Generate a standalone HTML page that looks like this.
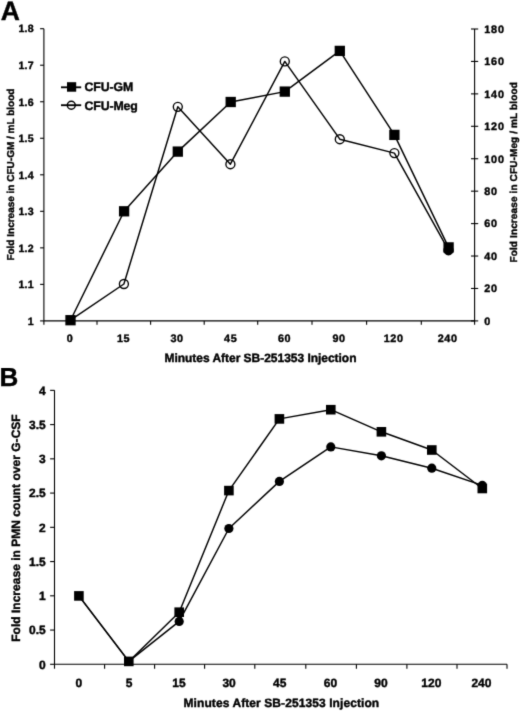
<!DOCTYPE html>
<html lang="en"><head><meta charset="utf-8"><title>Figure</title>
<style>
html,body{margin:0;padding:0;background:#fff;}
body{width:520px;height:711px;overflow:hidden;font-family:"Liberation Sans",Arial,Helvetica,sans-serif;}
svg{display:block;}
</style></head><body>
<svg width="520" height="711" viewBox="0 0 520 711" text-rendering="geometricPrecision">
<defs><filter id="soft" x="0" y="0" width="520" height="711" filterUnits="userSpaceOnUse"><feConvolveMatrix order="3" kernelMatrix="0.0144 0.0912 0.0144 0.0912 0.5776 0.0912 0.0144 0.0912 0.0144" divisor="1" edgeMode="none" preserveAlpha="false"/></filter></defs>
<rect width="520" height="711" fill="#fff"/>
<g filter="url(#soft)">
<g stroke="#000" stroke-width="1.1" fill="none">
<path d="M43.9 28.7V320.9L474.6 320.9V29.0"/>
<path d="M40.10 28.70H43.9"/>
<path d="M40.10 65.22H43.9"/>
<path d="M40.10 101.75H43.9"/>
<path d="M40.10 138.27H43.9"/>
<path d="M40.10 174.80H43.9"/>
<path d="M40.10 211.32H43.9"/>
<path d="M40.10 247.85H43.9"/>
<path d="M40.10 284.38H43.9"/>
<path d="M40.10 320.90H43.9"/>
<path d="M471.00 29.00H478.20"/>
<path d="M471.00 61.43H478.20"/>
<path d="M471.00 93.87H478.20"/>
<path d="M471.00 126.30H478.20"/>
<path d="M471.00 158.73H478.20"/>
<path d="M471.00 191.17H478.20"/>
<path d="M471.00 223.60H478.20"/>
<path d="M471.00 256.03H478.20"/>
<path d="M471.00 288.47H478.20"/>
<path d="M471.00 320.90H478.20"/>
<path d="M43.90 320.90V324.80"/>
<path d="M97.00 320.90V324.80"/>
<path d="M150.60 320.90V324.80"/>
<path d="M204.20 320.90V324.80"/>
<path d="M257.70 320.90V324.80"/>
<path d="M312.00 320.90V324.80"/>
<path d="M366.60 320.90V324.80"/>
<path d="M421.30 320.90V324.80"/>
<path d="M474.60 320.90V324.80"/>
</g>
<g font-family="Liberation Sans, Arial, Helvetica, sans-serif" font-weight="bold" stroke="#000" stroke-width="0.4" font-size="10.6" letter-spacing="0.25" text-anchor="end" fill="#000">
<text x="33.9" y="32.45">1.8</text>
<text x="33.9" y="68.97">1.7</text>
<text x="33.9" y="105.50">1.6</text>
<text x="33.9" y="142.02">1.5</text>
<text x="33.9" y="178.55">1.4</text>
<text x="33.9" y="215.07">1.3</text>
<text x="33.9" y="251.60">1.2</text>
<text x="33.9" y="288.12">1.1</text>
<text x="33.9" y="324.65">1</text>
</g>
<g font-family="Liberation Sans, Arial, Helvetica, sans-serif" font-weight="bold" stroke="#000" stroke-width="0.4" font-size="10.8" letter-spacing="0.8" text-anchor="start" fill="#000">
<text x="484.3" y="32.85">180</text>
<text x="484.3" y="65.28">160</text>
<text x="484.3" y="97.72">140</text>
<text x="484.3" y="130.15">120</text>
<text x="484.3" y="162.58">100</text>
<text x="484.3" y="195.02">80</text>
<text x="484.3" y="227.45">60</text>
<text x="484.3" y="259.88">40</text>
<text x="484.3" y="292.32">20</text>
<text x="484.3" y="324.75">0</text>
</g>
<g font-family="Liberation Sans, Arial, Helvetica, sans-serif" font-weight="bold" stroke="#000" stroke-width="0.4" font-size="10.8" letter-spacing="0.6" text-anchor="middle" fill="#000">
<text x="70.15" y="342.4">0</text>
<text x="123.50" y="342.4">15</text>
<text x="177.10" y="342.4">30</text>
<text x="230.65" y="342.4">45</text>
<text x="284.55" y="342.4">60</text>
<text x="339.00" y="342.4">90</text>
<text x="393.65" y="342.4">120</text>
<text x="447.65" y="342.4">240</text>
</g>
<text font-family="Liberation Sans, Arial, Helvetica, sans-serif" font-weight="bold" stroke="#000" stroke-width="0.4" font-size="12" x="164.5" y="361.8" textLength="192" lengthAdjust="spacing">Minutes After SB-251353 Injection</text>
<text font-family="Liberation Sans, Arial, Helvetica, sans-serif" font-weight="bold" stroke="#000" stroke-width="0.4" font-size="10" transform="translate(13.9 260.6) rotate(-90)" textLength="172" lengthAdjust="spacing">Fold Increase in CFU-GM / mL blood</text>
<text font-family="Liberation Sans, Arial, Helvetica, sans-serif" font-weight="bold" stroke="#000" stroke-width="0.4" font-size="10" transform="translate(516.6 262.5) rotate(-90)" textLength="180.3" lengthAdjust="spacing">Fold Increase in CFU-Meg / mL blood</text>
<text font-family="Liberation Sans, Arial, Helvetica, sans-serif" font-weight="bold" font-size="26.5" x="0.8" y="19.7" stroke="#000" stroke-width="0.4">A</text>
<text font-family="Liberation Sans, Arial, Helvetica, sans-serif" font-weight="bold" font-size="26" x="-0.4" y="385.8" stroke="#000" stroke-width="0.4">B</text>
<g stroke="#000" stroke-width="1.45" fill="none">
<path d="M61 87.3H81.2" stroke-width="1.85"/><path d="M61 105.2H81.2" stroke-width="1.85"/>
<circle cx="71.3" cy="105.2" r="3.95" stroke-width="1.5"/>
</g>
<rect x="67" y="82.2" width="9.2" height="9.5" fill="#000"/>
<text font-family="Liberation Sans, Arial, Helvetica, sans-serif" font-weight="bold" stroke="#000" stroke-width="0.4" font-size="12.3" x="84.5" y="91.3" textLength="48.8" lengthAdjust="spacing">CFU-GM</text>
<text font-family="Liberation Sans, Arial, Helvetica, sans-serif" font-weight="bold" stroke="#000" stroke-width="0.4" font-size="12.3" x="84.5" y="109.7" textLength="53.3" lengthAdjust="spacing">CFU-Meg</text>
<g stroke="#000" stroke-width="1.45" fill="none" stroke-linejoin="round">
<path d="M70.5 320.2 L124.1 211.3 L177.8 151.6 L230.7 102.0 L284.8 91.6 L339.8 50.9 L394.4 134.9 L448.6 247.4"/>
<path d="M70.5 320.2 L123.9 284.0 L177.8 106.8 L230.4 164.2 L284.8 61.4 L339.8 139.2 L394.4 153.1 L448.5 250.2"/>
</g>
<rect x="65.35" y="315.05" width="10.3" height="10.3" fill="#000"/>
<rect x="118.95" y="206.15" width="10.3" height="10.3" fill="#000"/>
<rect x="172.65" y="146.45" width="10.3" height="10.3" fill="#000"/>
<rect x="225.55" y="96.85" width="10.3" height="10.3" fill="#000"/>
<rect x="279.65" y="86.45" width="10.3" height="10.3" fill="#000"/>
<rect x="334.65" y="45.75" width="10.3" height="10.3" fill="#000"/>
<rect x="389.25" y="129.75" width="10.3" height="10.3" fill="#000"/>
<rect x="443.45" y="242.25" width="10.3" height="10.3" fill="#000"/>
<g stroke="#000" stroke-width="1.35" fill="none">
<circle cx="123.9" cy="284.0" r="4.5"/>
<circle cx="177.8" cy="106.8" r="4.5"/>
<circle cx="230.4" cy="164.2" r="4.5"/>
<circle cx="284.8" cy="61.4" r="4.5"/>
<circle cx="339.8" cy="139.2" r="4.5"/>
<circle cx="394.4" cy="153.1" r="4.5"/>
<circle cx="448.5" cy="250.2" r="4.5"/>
<circle cx="448.5" cy="250.2" r="4.4" fill="#000" stroke="none"/>
</g>
<g stroke="#000" stroke-width="1.1" fill="none">
<path d="M54.5 390.35V664.3H507.0"/>
<path d="M50.10 390.35H54.5"/>
<path d="M50.10 424.59H54.5"/>
<path d="M50.10 458.84H54.5"/>
<path d="M50.10 493.08H54.5"/>
<path d="M50.10 527.33H54.5"/>
<path d="M50.10 561.57H54.5"/>
<path d="M50.10 595.81H54.5"/>
<path d="M50.10 630.06H54.5"/>
<path d="M50.10 664.30H54.5"/>
<path d="M54.50 664.3V668.70"/>
<path d="M104.60 664.3V668.70"/>
<path d="M154.60 664.3V668.70"/>
<path d="M204.60 664.3V668.70"/>
<path d="M254.80 664.3V668.70"/>
<path d="M305.80 664.3V668.70"/>
<path d="M356.40 664.3V668.70"/>
<path d="M406.90 664.3V668.70"/>
<path d="M457.00 664.3V668.70"/>
<path d="M507.00 664.3V668.70"/>
</g>
<g font-family="Liberation Sans, Arial, Helvetica, sans-serif" font-weight="bold" stroke="#000" stroke-width="0.4" font-size="12" text-anchor="end" fill="#000">
<text x="45.8" y="394.65">4</text>
<text x="45.8" y="428.89">3.5</text>
<text x="45.8" y="463.14">3</text>
<text x="45.8" y="497.38">2.5</text>
<text x="45.8" y="531.62">2</text>
<text x="45.8" y="565.87">1.5</text>
<text x="45.8" y="600.11">1</text>
<text x="45.8" y="634.36">0.5</text>
<text x="45.8" y="668.60">0</text>
</g>
<g font-family="Liberation Sans, Arial, Helvetica, sans-serif" font-weight="bold" stroke="#000" stroke-width="0.4" font-size="12" text-anchor="middle" fill="#000">
<text x="78.95" y="686.7">0</text>
<text x="129.00" y="686.7">5</text>
<text x="179.00" y="686.7">15</text>
<text x="229.10" y="686.7">30</text>
<text x="279.70" y="686.7">45</text>
<text x="330.50" y="686.7">60</text>
<text x="381.05" y="686.7">90</text>
<text x="431.35" y="686.7">120</text>
<text x="481.40" y="686.7">240</text>
</g>
<text font-family="Liberation Sans, Arial, Helvetica, sans-serif" font-weight="bold" stroke="#000" stroke-width="0.4" font-size="12" x="183.5" y="707.4" textLength="195.7" lengthAdjust="spacing">Minutes After SB-251353 Injection</text>
<text font-family="Liberation Sans, Arial, Helvetica, sans-serif" font-weight="bold" stroke="#000" stroke-width="0.4" font-size="12" transform="translate(20.4 641.8) rotate(-90)" textLength="227.5" lengthAdjust="spacing">Fold Increase in PMN count over G-CSF</text>
<g stroke="#000" stroke-width="1.45" fill="none" stroke-linejoin="round">
<path d="M78.9 595.9 L128.8 661.4 L179.2 612.2 L228.9 490.6 L279.4 418.9 L330.8 409.7 L381.4 431.8 L431.8 450.0 L482.3 488.5"/>
<path d="M78.9 595.9 L128.8 661.4 L179.2 621.4 L228.9 528.5 L279.4 481.4 L330.8 446.9 L381.4 455.8 L431.8 468.2 L482.3 485.4"/>
</g>
<circle cx="179.2" cy="621.4" r="4.6" fill="#000"/>
<circle cx="228.9" cy="528.5" r="4.6" fill="#000"/>
<circle cx="279.4" cy="481.4" r="4.6" fill="#000"/>
<circle cx="330.8" cy="446.9" r="4.6" fill="#000"/>
<circle cx="381.4" cy="455.8" r="4.6" fill="#000"/>
<circle cx="431.8" cy="468.2" r="4.6" fill="#000"/>
<circle cx="482.3" cy="485.4" r="4.6" fill="#000"/>
<rect x="74.1" y="591.1" width="9.6" height="9.6" fill="#000"/>
<rect x="124.0" y="656.6" width="9.6" height="9.6" fill="#000"/>
<rect x="174.4" y="607.4" width="9.6" height="9.6" fill="#000"/>
<rect x="224.1" y="485.8" width="9.6" height="9.6" fill="#000"/>
<rect x="274.6" y="414.1" width="9.6" height="9.6" fill="#000"/>
<rect x="326.0" y="404.9" width="9.6" height="9.6" fill="#000"/>
<rect x="376.6" y="427.0" width="9.6" height="9.6" fill="#000"/>
<rect x="427.0" y="445.2" width="9.6" height="9.6" fill="#000"/>
<rect x="477.5" y="483.7" width="9.6" height="9.6" fill="#000"/>
</g>
</svg>
</body></html>
